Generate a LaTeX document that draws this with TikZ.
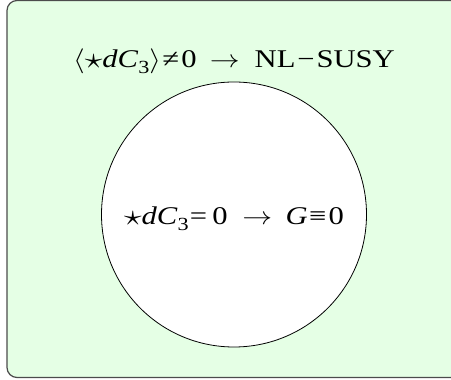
\documentclass[tikz,border=0pt]{standalone}
\usepackage{graphicx}
\usepackage{fontspec}
\setmainfont{Liberation Serif}
\newcommand\myit[1]{{\itshape #1\/}}
\newcommand\mysub[1]{\raisebox{-0.2em}{\fontsize{18.5}{18.5}\selectfont #1}}
\newcommand\mywide[1]{\scalebox{1.2}[1]{#1}}
\newcommand\mystar{\raisebox{-0.03em}{\scalebox{1.2}{$\star$}}}
\begin{document}
\begin{tikzpicture}[x=1pt,y=1pt,
  frame/.style={draw=black!70,fill={rgb,255:red,229;green,255;blue,229},line width=1.2pt,rounded corners=10pt},
  disc/.style={draw=black,fill=white,line width=0.8pt},
  lbl/.style={font=\fontsize{25.5}{30}\selectfont,inner sep=0pt,anchor=base}]
\useasboundingbox (0,0) rectangle (451,380);
\begin{scope}
\clip (0,0) rectangle (451,380);
\draw[frame] (7,2.5) rectangle (480,379.5);
\end{scope}
\node[disc,circle,minimum size=265pt,inner sep=0pt] (c) at (234,165.5) {};
\node[lbl] (top) at (234,312) {\mywide{$\langle$\mystar\myit{dC}\mysub{3}$\rangle$\kern1pt≠\kern2pt0\kern11pt$\rightarrow$\kern12.4pt NL\kern1.7pt−\kern1.5pt SUSY}};
\node[lbl] (in) at (234,155) {\mywide{\mystar\myit{dC}\mysub{3}\kern1pt=\kern4.4pt0\kern12.3pt$\rightarrow$\kern11.2pt\myit{G}\kern1pt≡\kern2pt0}};
\end{tikzpicture}
\end{document}
